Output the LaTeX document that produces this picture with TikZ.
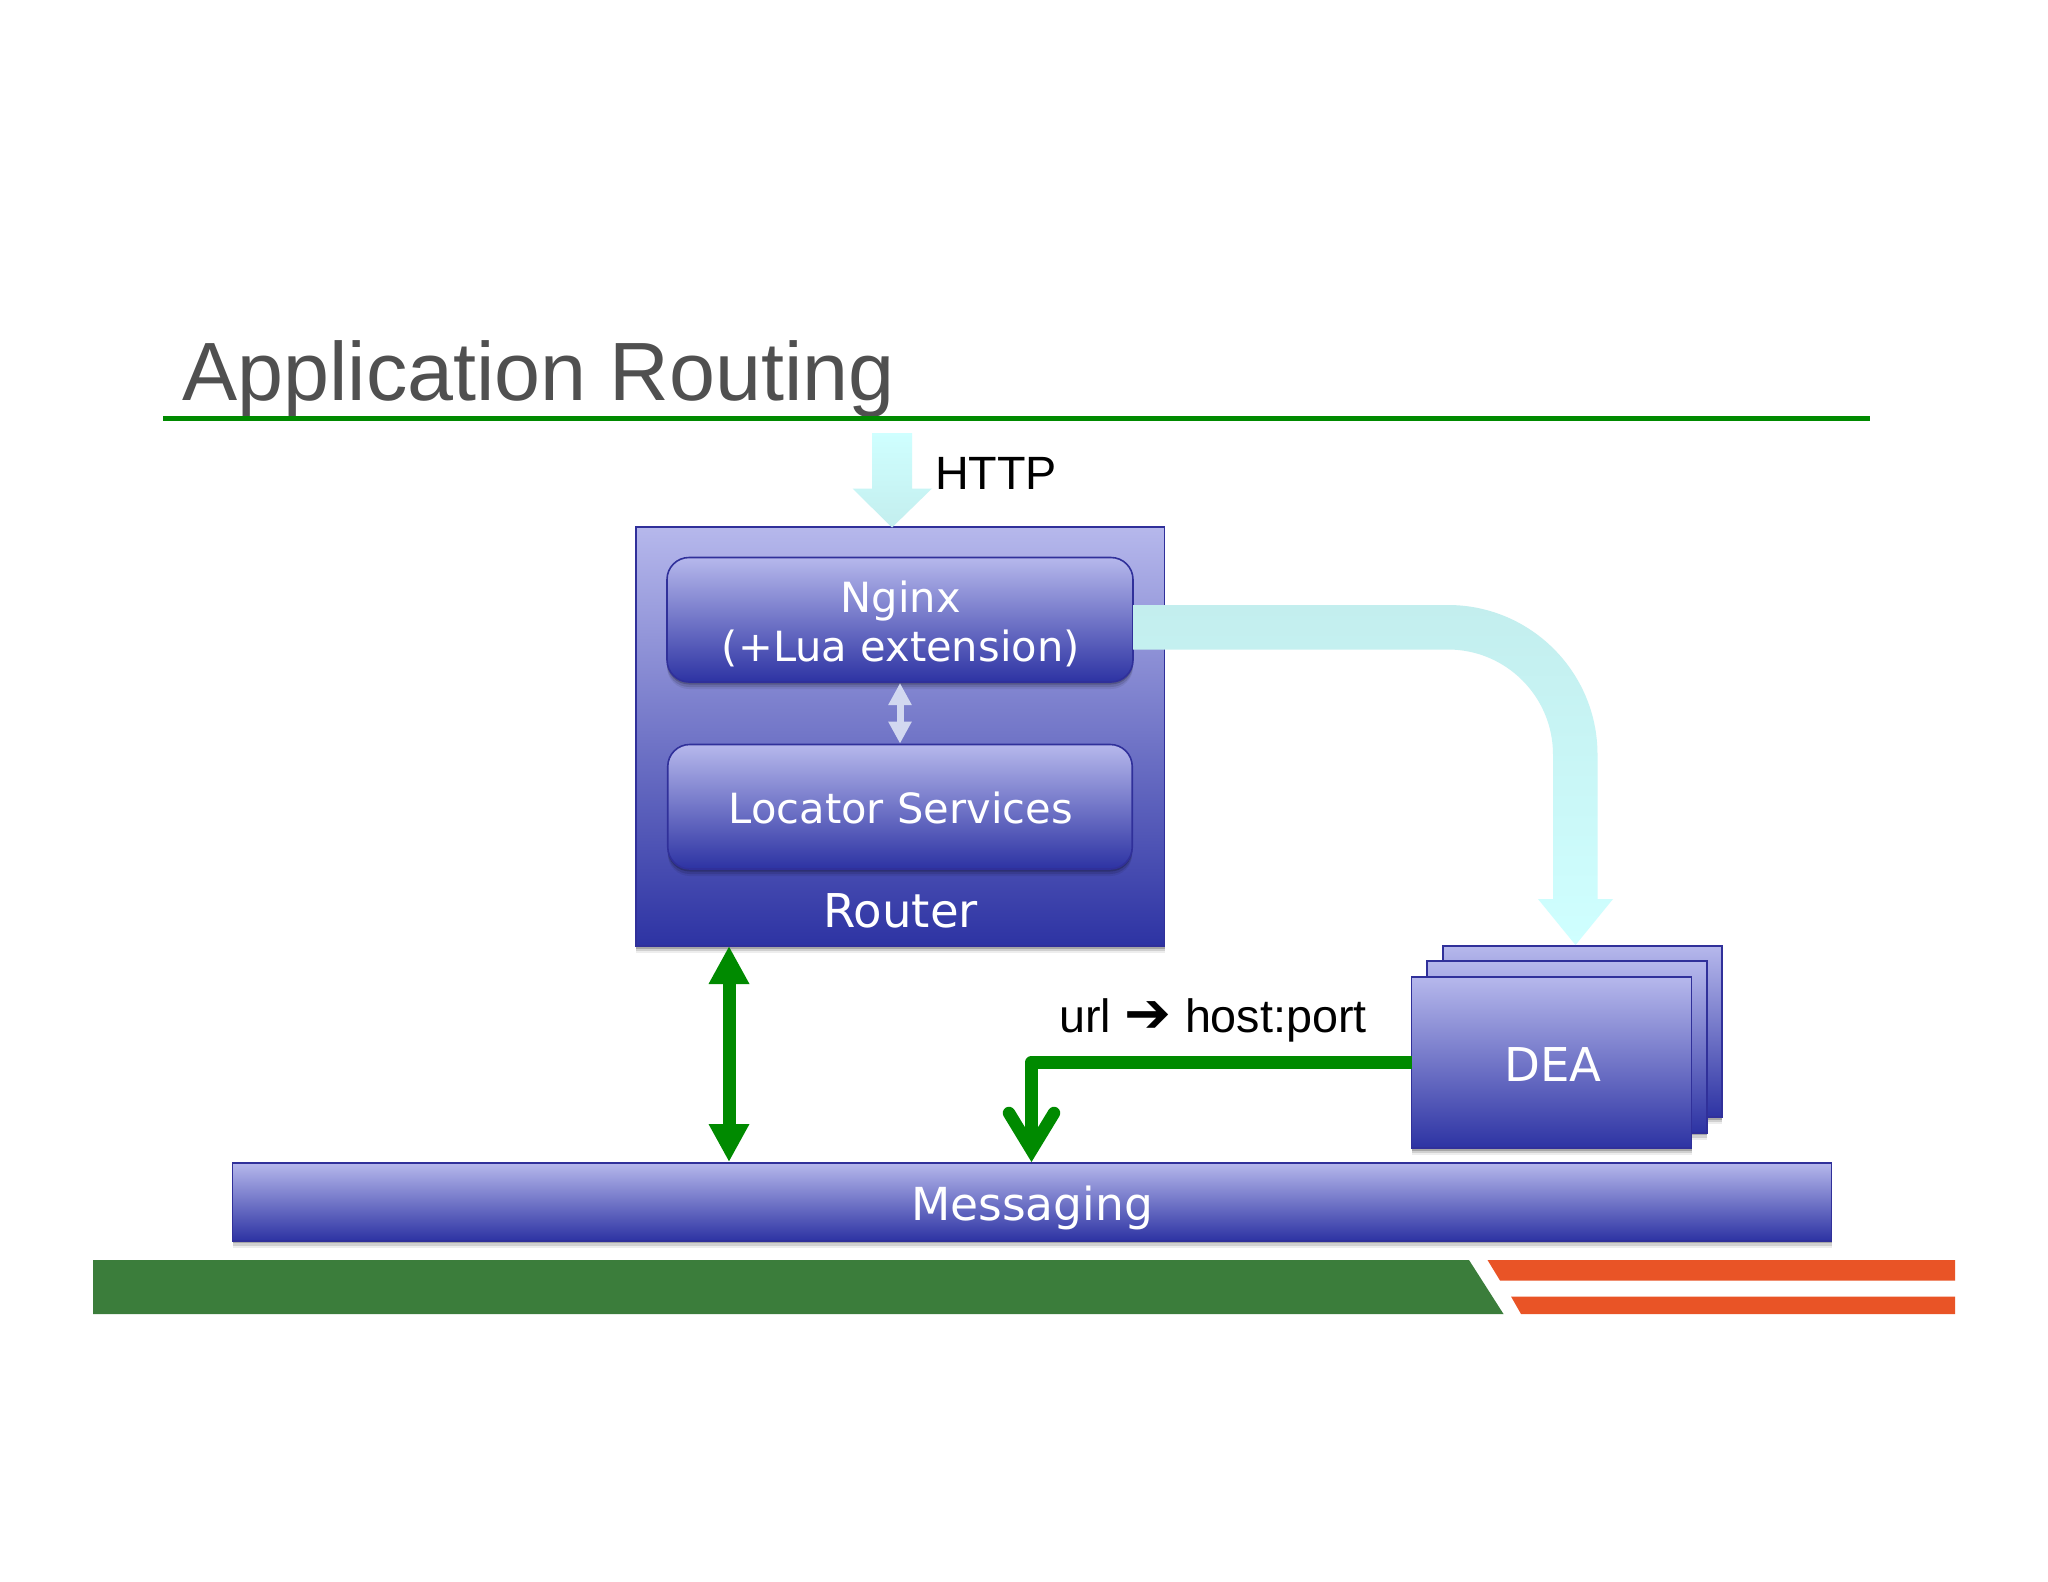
\documentclass[tikz,border=0pt]{standalone}
\usepackage{fontspec}
\setmainfont{DejaVu Sans}
\newfontfamily\arialf{Liberation Sans}
\newfontfamily\dejaf{DejaVu Sans}
\usetikzlibrary{arrows.meta,shadows,calc}
\definecolor{boxtop}{HTML}{B6B8EC}
\definecolor{boxbot}{HTML}{2D33A3}
\definecolor{boxline}{HTML}{30309A}
\definecolor{greenl}{HTML}{008A00}
\definecolor{cyantop}{HTML}{C3EEEE}
\definecolor{cyanbot}{HTML}{CFFFFF}
\definecolor{foot}{HTML}{3B7D3B}
\definecolor{orng}{HTML}{E95426}
\definecolor{titlec}{HTML}{505050}
\definecolor{dbl}{HTML}{D2D8F0}
\tikzset{
  x=1pt,y=-1pt,
  softshadow/.style={
    general shadow={shadow xshift=0pt,shadow yshift=-7pt,fill=black,opacity=.07},
    general shadow={shadow xshift=0pt,shadow yshift=-5pt,fill=black,opacity=.12},
    general shadow={shadow xshift=0pt,shadow yshift=-2.5pt,fill=black,opacity=.2}},
  boxbase/.style={draw=boxline,line width=1.6pt,top color=boxtop,bottom color=boxbot,inner sep=0pt,outer sep=0pt,softshadow},
  rbox/.style={boxbase,rounded corners=22pt},
  lbl/.style={text=white,inner sep=0pt,anchor=base,font=\dejaf\fontsize{46.6}{49}\selectfont},
  lblsmall/.style={text=white,inner sep=0pt,anchor=base,font=\dejaf\fontsize{41.6}{49}\selectfont},
  blk/.style={text=black,inner sep=0pt,anchor=base west,font=\arialf\fontsize{46.7}{49}\selectfont},
  greenarrow/.style={draw=greenl,line width=13pt,{Triangle[length=38pt,width=38pt]}-{Triangle[length=38pt,width=38pt]},shorten <=0pt,shorten >=0pt},
}
\begin{document}
\begin{tikzpicture}
\useasboundingbox (0,0) rectangle (2048,1582);
\fill[white] (0,0) rectangle (2048,1582);
% title
\node[inner sep=0pt,anchor=base west,text=titlec,font=\arialf\fontsize{82.7}{90}\selectfont] (title) at (182,400) {Application Routing};
\draw[draw=greenl,line width=5pt] (163,418.5) coordinate (ruleL) -- (1870,418.5) coordinate (ruleR);
% footer
\fill[foot] (93,1260) -- (1469,1260) -- (1503.5,1314) -- (93,1314) -- cycle;
\fill[orng] (1487.5,1260) -- (1955,1260) -- (1955,1280.5) -- (1500,1280.5) -- cycle;
\fill[orng] (1511,1296.5) -- (1955,1296.5) -- (1955,1314) -- (1521,1314) -- cycle;
% router
\node[boxbase,minimum width=528.5pt,minimum height=419pt] (router) at (900.25,736.5) {};
\node[rbox,minimum width=466pt,minimum height=124.5pt] (nginx) at (900,619.75) {};
\node[rbox,minimum width=464.5pt,minimum height=124.5pt] (locator) at (900,806.75) {};
\node[lblsmall] (t1) at (900.8,612.2) {Nginx};
\node[lblsmall] (t2) at (900.8,661.9) {(+Lua extension)};
\node[lblsmall] (t3) at (900.8,823.7) {Locator Services};
\node[lbl] (t4) at (900.8,927.2) {Router};
% messaging
\node[boxbase,minimum width=1599pt,minimum height=78pt] (messaging) at (1032,1201.7) {};
\node[lbl,font=\dejaf\fontsize{45.5}{52}\selectfont] (t5) at (1032,1220) {Messaging};
% dea
\node[boxbase,minimum width=279pt,minimum height=171.5pt] (dea3) at (1582.5,1031.5) {};
\node[boxbase,minimum width=280pt,minimum height=171.5pt] (dea2) at (1567,1047) {};
\node[boxbase,minimum width=280pt,minimum height=171.5pt] (dea) at (1551.5,1062.5) {};
\node[lbl] (t6) at (1553,1081) {DEA};
% http arrow
\coordinate (httptip) at (892,527.5);
\shade[top color=cyanbot,bottom color=cyantop]
  (872,433) -- (912,433) -- (912,488.5) -- (932,488.5) -- (httptip) -- (852.5,488.5) -- (872,488.5) -- cycle;
\node[blk] (http) at (935,489) {HTTP};
% inner double arrow
\coordinate (ds) at (900,683);
\coordinate (de) at (900,743.6);
\draw[draw=dbl,line width=7pt,{Triangle[length=22pt,width=22pt]}-{Triangle[length=22pt,width=22pt]}] (ds) -- (de);
% big cyan arrow
\coordinate (bigS) at (nginx.east);
\coordinate (bigT) at (1575.5,945);
\shade[top color=cyantop,bottom color=cyanbot]
  (1133,605) -- (1448,605) .. controls (1530.5,605) and (1597.5,672) .. (1597.5,754.5)
  -- (1597.5,899) -- (1613,899) -- (bigT) -- (1538,899) -- (1553,899) -- (1553,754.5)
  .. controls (1553,696.5) and (1506,649.5) .. (1448,649.5) -- (1133,649.5) -- cycle;
% green double arrow
\coordinate (gs) at (729,946);
\coordinate (ge) at (729,1162);
\draw[greenarrow] (gs) -- (ge);
% url connector
\node[blk] (url) at (1059,1032.5) {url\hspace{13pt}{\dejaf\fontsize{56}{50}\selectfont ➔}\hspace{14pt}host:port};
\coordinate (corner) at (1031.5,1062.5);
\coordinate (vtip) at (1031.5,1150);
\draw[draw=greenl,line width=13.5pt,line join=round] (dea.west |- corner) -- (corner) -- (vtip);
\draw[draw=greenl,line width=12.5pt,line cap=round,miter limit=10] (1009,1113) -- (vtip) -- (1054,1113);
\end{tikzpicture}
\end{document}
